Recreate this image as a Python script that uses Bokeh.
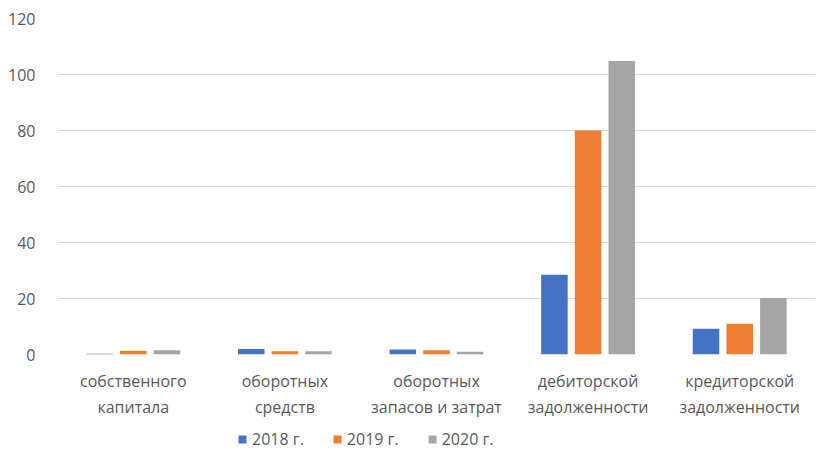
from bokeh.plotting import figure
from bokeh.models import Legend, LegendItem, FixedTicker, Range1d, ColumnDataSource
from bokeh.layouts import column
from bokeh.transform import dodge
from bokeh.embed import file_html
from bokeh.resources import INLINE

categories = ["собственного\nкапитала", "оборотных\nсредств", "оборотных\nзапасов и затрат",
              "дебиторской\nзадолженности", "кредиторской\nзадолженности"]
series_names = ["2018 г.", "2019 г.", "2020 г."]
v2018 = [0.3, 2.0, 1.8, 28.5, 9.2]
v2019 = [1.3, 1.2, 1.5, 80.0, 11.0]
v2020 = [1.5, 1.2, 1.0, 104.8, 20.2]
y_ticks = [0, 20, 40, 60, 80, 100, 120]

colors = ["#4472C4", "#ED7D31", "#A5A5A5"]
FONT = "Open Sans"
TXT = "#595959"

src = ColumnDataSource(dict(cat=categories, a=v2018, b=v2019, c=v2020))

p = figure(x_range=categories, y_range=Range1d(0, 120), width=821, height=420,
           output_backend="svg", toolbar_location=None,
           min_border_left=57, min_border_right=6, min_border_top=18, min_border_bottom=64)

for col, off, color in zip(["a", "b", "c"], [-0.222, 0.0, 0.222], colors):
    p.vbar(x=dodge("cat", off, range=p.x_range), top=col, width=0.175, source=src,
           fill_color=color, line_color=None)

p.outline_line_color = None
p.xgrid.grid_line_color = None
p.ygrid.grid_line_color = "#D9D9D9"
p.ygrid.grid_line_width = 1
p.yaxis.ticker = FixedTicker(ticks=y_ticks)
for ax in (p.xaxis, p.yaxis):
    ax.axis_line_color = None
    ax.major_tick_line_color = None
    ax.minor_tick_line_color = None
    ax.major_label_text_font = FONT
    ax.major_label_text_font_size = "16px"
    ax.major_label_text_color = TXT
p.yaxis.major_label_standoff = 16
p.xaxis.major_label_standoff = 9

# legend strip (proxy glyphs sit outside the visible range)
p2 = figure(width=821, height=40, output_backend="svg", toolbar_location=None,
            min_border_left=0, min_border_right=0, min_border_top=0, min_border_bottom=0,
            x_range=Range1d(0, 1), y_range=Range1d(0, 1))
p2.outline_line_color = None
p2.axis.visible = False
p2.grid.grid_line_color = None
proxies = [p2.vbar(x=[-10], top=[-5], bottom=[-6], width=1, fill_color=c, line_color=None)
           for c in colors]
legend = Legend(items=[LegendItem(label=n, renderers=[r]) for n, r in zip(series_names, proxies)],
                orientation="horizontal", location=(180, 10),
                label_text_font=FONT, label_text_font_size="16px", label_text_color=TXT,
                glyph_width=10, glyph_height=10, spacing=28, label_standoff=5,
                border_line_color=None, background_fill_alpha=0, padding=0, margin=0)
p2.add_layout(legend, "center")

open("out.html", "w").write(file_html(column(p, p2, spacing=0), INLINE))
